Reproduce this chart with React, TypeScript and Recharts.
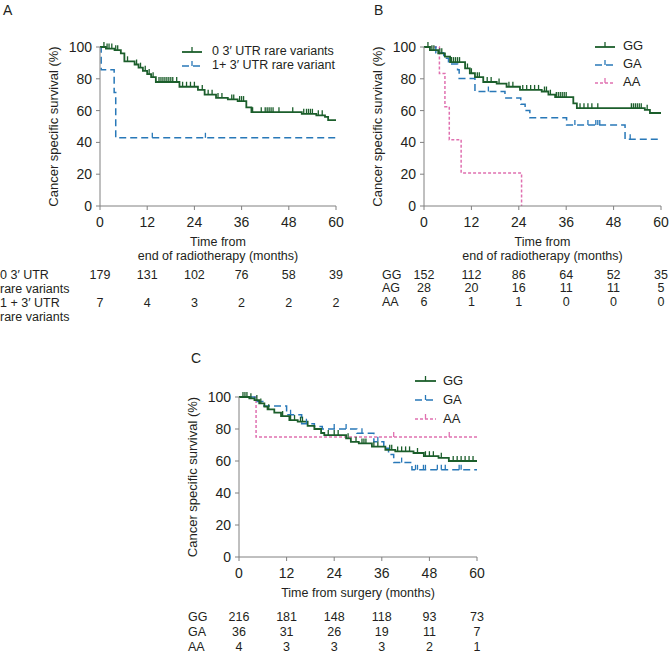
import React from 'react';
import { LineChart, Line, XAxis, YAxis, Legend } from 'recharts';

const FONT = '"Liberation Sans", Arial, Helvetica, sans-serif';
const TEXT = '#231f20';
const AXIS = '#808080';
const GREEN = '#1b5e2b';
const BLUE = '#2878b8';
const PINK = '#e070b0';

const TICKS_X = [0, 12, 24, 36, 48, 60];
const TICKS_Y = [0, 20, 40, 60, 80, 100];

// Panel A - 3' UTR rare variants (time from end of radiotherapy)
const A0_TIMES = [0, 1.5, 3.7, 5.3, 6.2, 8.8, 9.8, 10.9, 12.0, 13.0, 14.2, 20.2, 24.9, 26.6, 29.5, 32.5, 35, 37.2, 38.5, 51.3, 55, 57.2, 58, 60];
const A0_SURV = [100, 99, 98, 96, 91, 89, 87, 85, 83, 81, 78, 75, 73, 70, 68, 67, 66, 62, 59, 58, 57, 56, 54, 54];
const A0_CENS = [1, 1.8, 2.3, 3, 4, 4.5, 7, 9.3, 10.3, 11.5, 12.5, 13.5, 15, 15.5, 16, 16.5, 17, 17.5, 18, 18.5, 19.5, 21, 22, 23, 24, 26, 27.5, 28.5, 30, 31, 33.5, 34, 35.5, 36, 36.5, 38.8, 41, 42, 42.5, 43, 43.5, 44, 45.5, 49, 51.8, 52.5, 53, 53.5, 54, 55.5, 56.5];
const A1_TIMES = [0, 0.3, 3.6, 4.0, 60];
const A1_SURV = [100, 85.7, 71.4, 42.9, 42.9];
const A1_CENS = [13.3, 26.8];
const RISK_A0 = [179, 131, 102, 76, 58, 39];
const RISK_A1 = [7, 4, 3, 2, 2, 2];

// Panel B - genotype (time from end of radiotherapy)
const BGG_TIMES = [0, 1.5, 3.6, 5.3, 6.6, 10.4, 11.6, 12.9, 15, 18.4, 20.9, 24.3, 29.8, 31.5, 33.2, 37.8, 38.7, 55.9, 57.2, 60];
const BGG_SURV = [100, 98, 96, 94, 90.5, 86.5, 83.5, 81, 78, 77, 75, 73, 72, 70, 68.5, 64.5, 61.5, 60.5, 58.5, 58.5];
const BGG_CENS = [1, 2, 2.5, 4, 4.5, 7, 7.5, 8, 8.5, 9, 11, 12, 13.5, 14, 16, 17, 19, 21.5, 22.5, 25, 26, 27, 28, 29, 30.5, 31, 32, 33.5, 34, 34.5, 35, 35.5, 36, 39.5, 40.5, 41.5, 42.5, 44, 52.5, 53, 53.5, 54, 54.5, 55, 56.5];
const BGA_TIMES = [0, 3, 5, 6.2, 8.5, 8.9, 12.9, 20.5, 24.5, 25.6, 26.8, 36.1, 50.9, 60];
const BGA_SURV = [100, 96.4, 92.9, 89.3, 85.7, 80.2, 72, 68, 64, 60, 55.5, 51, 42, 42];
const BGA_CENS = [16.3, 38.2, 41.5, 43.5, 44, 44.5, 52.2];
const BAA_TIMES = [0, 3.9, 5.3, 6.4, 9.4, 24.7];
const BAA_SURV = [100, 83.3, 62.5, 41.7, 20.8, 0];
const BAA_CENS: number[] = [];
const RISK_BGG = [152, 112, 86, 64, 52, 35];
const RISK_BAG = [28, 20, 16, 11, 11, 5];
const RISK_BAA = [6, 1, 1, 0, 0, 0];

// Panel C - genotype (time from surgery)
const CGG_TIMES = [0, 2.6, 3.9, 5.1, 6.4, 7.2, 8.9, 10.6, 12.7, 14.8, 17.3, 19, 20.7, 21.5, 27, 28.2, 30.2, 33.5, 36.9, 39.4, 44, 46.6, 50.3, 52.9, 60];
const CGG_SURV = [100, 99.2, 98.1, 96, 94, 92.3, 90.2, 88.1, 85.6, 84.6, 82, 80, 77.5, 76.2, 74.2, 72, 71, 69, 67, 66, 65, 63, 62, 60, 60];
const CGG_CENS = [1, 1.5, 2, 3, 4.5, 5.5, 7.5, 11, 13, 14, 15.5, 16, 22.5, 24, 25, 27.5, 29.5, 31, 31.5, 32, 34, 35, 38, 38.5, 40, 41, 42, 43, 45, 47, 48, 49, 51, 54, 55, 56, 57, 58, 59];
const CGA_TIMES = [0, 4, 6, 12, 15.8, 19, 21, 29.7, 34, 36.5, 37.7, 39, 43.6, 60];
const CGA_SURV = [100, 97.2, 94.4, 88.9, 83.3, 81.5, 80, 77.3, 72, 68, 64, 59, 54.5, 54.5];
const CGA_CENS = [13, 17, 24, 27, 31, 35, 41, 44.5, 45, 46.5, 47, 50, 51, 52, 55.5, 56];
const CAA_TIMES = [0, 4.3, 60];
const CAA_SURV = [100, 75, 75];
const CAA_CENS = [39, 53];
const RISK_CGG = [216, 181, 148, 118, 93, 73];
const RISK_CGA = [36, 31, 26, 19, 11, 7];
const RISK_CAA = [4, 3, 3, 3, 2, 1];

type Pt = { t: number; s: number; c: boolean };

// step points + censored points (value of the step at the censor time)
function km(times: number[], surv: number[], censor: number[]): Pt[] {
  const pts: Pt[] = times.map((t, i) => ({ t, s: surv[i], c: false }));
  censor.forEach((t) => {
    let s = surv[0];
    times.forEach((tt, i) => {
      if (tt <= t) s = surv[i];
    });
    pts.push({ t, s, c: true });
  });
  return pts.sort((a, b) => a.t - b.t || Number(a.c) - Number(b.c));
}

interface Series {
  name: string;
  color: string;
  dash?: string;
  width: number;
  data: Pt[];
}

interface RiskRow {
  label: string[];
  values: number[];
  dy: number; // baseline offset below the x axis line
}

interface PanelProps {
  left: number;
  top: number;
  width: number;
  height: number;
  margin: { top: number; right: number; left: number; bottom: number };
  series: Series[];
  xTitle: string[];
  xAxisHeight: number;
  risk: RiskRow[];
  riskLabelDx: number;
  legend: { left: number; top: number; rowH: number; lineW: number; gap: number; font: number };
}

const RISK_FONT = 12.5;

const censorDot = (color: string) => (props: any) => {
  const { cx, cy, payload, index } = props;
  if (!payload || !payload.c || cx == null || cy == null) return <g key={`d-${index}`} />;
  return <line key={`d-${index}`} x1={cx} x2={cx} y1={cy} y2={cy - 5} stroke={color} strokeWidth={1.3} />;
};

// time tick with the numbers at risk underneath
const TimeTick = (props: any) => {
  const { x, y, payload, risk, axisY } = props;
  const idx = TICKS_X.indexOf(payload.value);
  return (
    <g>
      <text x={x} y={y} dy="0.71em" textAnchor="middle" fontSize={14} fill={TEXT}>
        {payload.value}
      </text>
      {risk.map((r: RiskRow, i: number) => (
        <text key={i} x={x} y={axisY + r.dy} textAnchor="middle" fontSize={RISK_FONT} fill={TEXT}>
          {r.values[idx]}
        </text>
      ))}
    </g>
  );
};

const XTitle = (props: any) => {
  const { viewBox, lines, risk, dx } = props;
  const cx = viewBox.x + viewBox.width / 2;
  const lx = viewBox.x + dx;
  return (
    <g>
      <text x={cx} y={viewBox.y + 39.5} textAnchor="middle" fontSize={12.5} fill={TEXT}>
        {lines.map((l: string, i: number) => (
          <tspan key={i} x={cx} dy={i === 0 ? 0 : 14}>
            {l}
          </tspan>
        ))}
      </text>
      {risk.map((r: RiskRow, i: number) => (
        <text key={i} x={lx} y={viewBox.y + r.dy} textAnchor="start" fontSize={RISK_FONT} fill={TEXT}>
          {r.label.map((l: string, j: number) => (
            <tspan key={j} x={lx} dy={j === 0 ? 0 : 14}>
              {l}
            </tspan>
          ))}
        </text>
      ))}
    </g>
  );
};

const YTitle = (props: any) => {
  const { viewBox } = props;
  const cx = viewBox.x - 7;
  const cy = viewBox.y + viewBox.height / 2;
  return (
    <text
      x={cx}
      y={cy}
      transform={`rotate(-90, ${cx}, ${cy})`}
      textAnchor="middle"
      dominantBaseline="central"
      fontSize={13}
      fill={TEXT}
    >
      Cancer specific survival (%)
    </text>
  );
};

function Panel(p: PanelProps) {
  const lg = p.legend;
  const axisY = p.height - p.margin.bottom - p.xAxisHeight;
  const legendContent = () => (
    <div>
      {p.series.map((s) => (
        <div key={s.name} style={{ display: 'flex', alignItems: 'center', height: lg.rowH }}>
          <svg width={lg.lineW} height={12} style={{ display: 'block' }}>
            <line x1={0} x2={lg.lineW} y1={7} y2={7} stroke={s.color} strokeWidth={s.width} strokeDasharray={s.dash} />
            <line x1={lg.lineW / 2} x2={lg.lineW / 2} y1={7} y2={2} stroke={s.color} strokeWidth={1.3} />
          </svg>
          <span
            style={{
              marginLeft: lg.gap,
              fontSize: lg.font,
              lineHeight: `${lg.rowH}px`,
              color: TEXT,
              whiteSpace: 'nowrap',
            }}
          >
            {s.name}
          </span>
        </div>
      ))}
    </div>
  );

  return (
    <div style={{ position: 'absolute', left: p.left, top: p.top }}>
      <LineChart width={p.width} height={p.height} margin={p.margin}>
        <XAxis
          type="number"
          dataKey="t"
          domain={[0, 60]}
          ticks={TICKS_X}
          interval={0}
          height={p.xAxisHeight}
          tickSize={4}
          tickMargin={7}
          stroke={AXIS}
          tick={<TimeTick risk={p.risk} axisY={axisY} />}
          label={<XTitle lines={p.xTitle} risk={p.risk} dx={p.riskLabelDx} />}
        />
        <YAxis
          type="number"
          domain={[0, 100]}
          ticks={TICKS_Y}
          interval={0}
          width={40}
          tickSize={4}
          tickMargin={4}
          stroke={AXIS}
          tick={{ fill: TEXT, fontSize: 14 }}
          label={<YTitle />}
        />
        <Legend
          layout="vertical"
          align="center"
          verticalAlign="middle"
          wrapperStyle={{ left: lg.left, top: lg.top, width: 'auto' }}
          content={legendContent}
        />
        {p.series
          .slice()
          .reverse()
          .map((s) => (
            <Line
              key={s.name}
              data={s.data}
              dataKey="s"
              name={s.name}
              type="stepAfter"
              stroke={s.color}
              strokeWidth={s.width}
              strokeDasharray={s.dash}
              dot={censorDot(s.color)}
              activeDot={false}
              isAnimationActive={false}
            />
          ))}
      </LineChart>
    </div>
  );
}

const seriesA: Series[] = [
  { name: '0 3\u2032 UTR rare variants', color: GREEN, width: 1.8, data: km(A0_TIMES, A0_SURV, A0_CENS) },
  { name: '1+ 3\u2032 UTR rare variant', color: BLUE, width: 1.5, dash: '7 4', data: km(A1_TIMES, A1_SURV, A1_CENS) },
];
const seriesB: Series[] = [
  { name: 'GG', color: GREEN, width: 1.8, data: km(BGG_TIMES, BGG_SURV, BGG_CENS) },
  { name: 'GA', color: BLUE, width: 1.5, dash: '7 4', data: km(BGA_TIMES, BGA_SURV, BGA_CENS) },
  { name: 'AA', color: PINK, width: 1.5, dash: '3 2', data: km(BAA_TIMES, BAA_SURV, BAA_CENS) },
];
const seriesC: Series[] = [
  { name: 'GG', color: GREEN, width: 1.8, data: km(CGG_TIMES, CGG_SURV, CGG_CENS) },
  { name: 'GA', color: BLUE, width: 1.5, dash: '7 4', data: km(CGA_TIMES, CGA_SURV, CGA_CENS) },
  { name: 'AA', color: PINK, width: 1.5, dash: '3 2', data: km(CAA_TIMES, CAA_SURV, CAA_CENS) },
];

export default function App() {
  return (
    <div style={{ position: 'absolute', left: 0, top: 0, width: 669, height: 655, background: '#fff', fontFamily: FONT }}>
      <svg width={669} height={655} style={{ position: 'absolute', left: 0, top: 0 }}>
        <text x={3} y={15} fontSize={14} fill={TEXT}>A</text>
        <text x={374} y={15} fontSize={14} fill={TEXT}>B</text>
        <text x={191} y={363} fontSize={14} fill={TEXT}>C</text>
      </svg>
      <Panel
        left={0}
        top={0}
        width={345}
        height={330}
        margin={{ top: 47, right: 9, left: 60, bottom: 0 }}
        series={seriesA}
        xTitle={['Time from', 'end of radiotherapy (months)']}
        xAxisHeight={124}
        risk={[
          { label: ['0 3\u2032 UTR', 'rare variants'], values: RISK_A0, dy: 72.5 },
          { label: ['1 + 3\u2032 UTR', 'rare variants'], values: RISK_A1, dy: 100.5 },
        ]}
        riskLabelDx={-100}
        legend={{ left: 182, top: 44, rowH: 14, lineW: 20, gap: 10, font: 12.5 }}
      />
      <Panel
        left={335}
        top={0}
        width={334}
        height={330}
        margin={{ top: 47, right: 8, left: 49, bottom: 0 }}
        series={seriesB}
        xTitle={['Time from', 'end of radiotherapy (months)']}
        xAxisHeight={124}
        risk={[
          { label: ['GG'], values: RISK_BGG, dy: 72.5 },
          { label: ['AG'], values: RISK_BAG, dy: 86 },
          { label: ['AA'], values: RISK_BAA, dy: 99.5 },
        ]}
        riskLabelDx={-42}
        legend={{ left: 260, top: 36.5, rowH: 18, lineW: 20, gap: 8, font: 13 }}
      />
      <Panel
        left={150}
        top={320}
        width={340}
        height={335}
        margin={{ top: 77, right: 13, left: 49, bottom: 0 }}
        series={seriesC}
        xTitle={['Time from surgery (months)']}
        xAxisHeight={98}
        risk={[
          { label: ['GG'], values: RISK_CGG, dy: 63.5 },
          { label: ['GA'], values: RISK_CGA, dy: 78.5 },
          { label: ['AA'], values: RISK_CAA, dy: 94 },
        ]}
        riskLabelDx={-51}
        legend={{ left: 265, top: 50.5, rowH: 19, lineW: 21, gap: 7, font: 13 }}
      />
    </div>
  );
}
